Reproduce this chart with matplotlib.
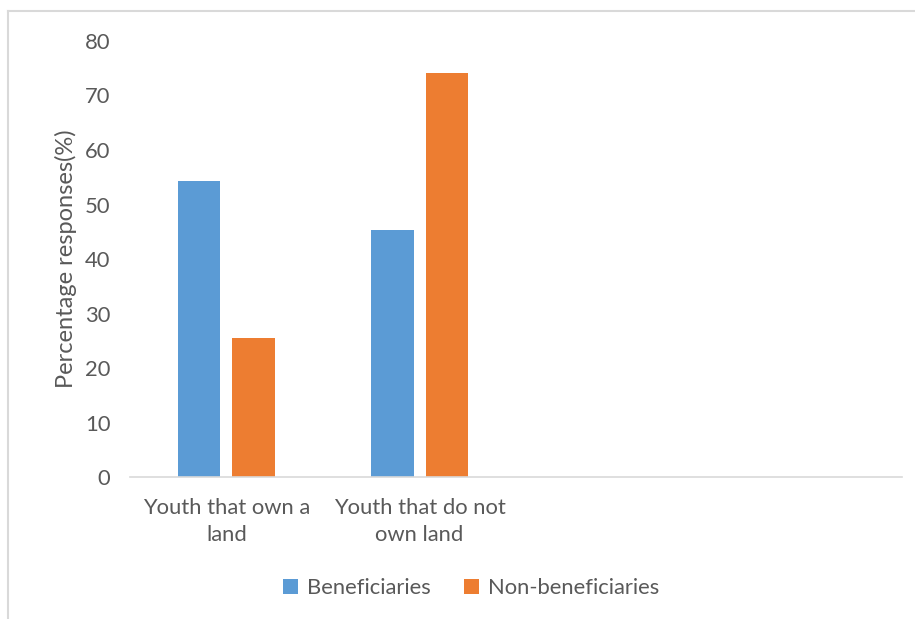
import numpy as np
import matplotlib.pyplot as plt
from matplotlib.lines import Line2D

categories = ['Youth that own a\nland', 'Youth that do not\nown land', '', '']
beneficiaries = [54.3, 45.3]
non_beneficiaries = [25.5, 74.1]
yticks = [0, 10, 20, 30, 40, 50, 60, 70, 80]

plt.rcParams['font.family'] = ['Lato', 'DejaVu Sans']
grey = '#595959'
fs = 15.8

fig = plt.figure(figsize=(9.15, 6.19), dpi=100)
ax = fig.add_axes([0.142, 0.229, 0.844, 0.705])

w = 0.218
off = 0.14
x = np.arange(len(beneficiaries))
ax.bar(x - off, beneficiaries, width=w, color='#5b9bd5', label='Beneficiaries')
ax.bar(x + off, non_beneficiaries, width=w, color='#ed7d31', label='Non-beneficiaries')

ax.set_xlim(-0.5, len(categories) - 0.5)
ax.set_ylim(0, 80)
ax.set_yticks(yticks)
ax.set_xticks(np.arange(len(categories)))
ax.set_xticklabels(categories, fontsize=fs, color=grey, linespacing=1.45)
ax.tick_params(axis='y', labelsize=fs, labelcolor=grey, length=0, pad=14)
ax.tick_params(axis='x', length=0, pad=15)
for s in ['top', 'right', 'left']:
    ax.spines[s].set_visible(False)
ax.spines['bottom'].set_color('#d9d9d9')
ax.spines['bottom'].set_linewidth(1.2)
ax.set_ylabel('Percentage responses(%)', fontsize=17, color=grey)
ax.yaxis.set_label_coords(-0.069, 0.5)

fig.legend(loc='center', bbox_to_anchor=(0.515, 0.05), ncol=2, frameon=False,
           fontsize=fs, labelcolor=grey, handlelength=0.7, handleheight=0.7,
           handletextpad=0.4, columnspacing=1.5)

# chart border (light grey)
fig.add_artist(Line2D([8 / 915, 1], [1 - 11 / 619, 1 - 11 / 619], color='#d9d9d9', lw=1.5))
fig.add_artist(Line2D([8 / 915, 8 / 915], [0, 1 - 11 / 619], color='#d9d9d9', lw=1.5))

fig.savefig('out.png', dpi=100, facecolor='white')
